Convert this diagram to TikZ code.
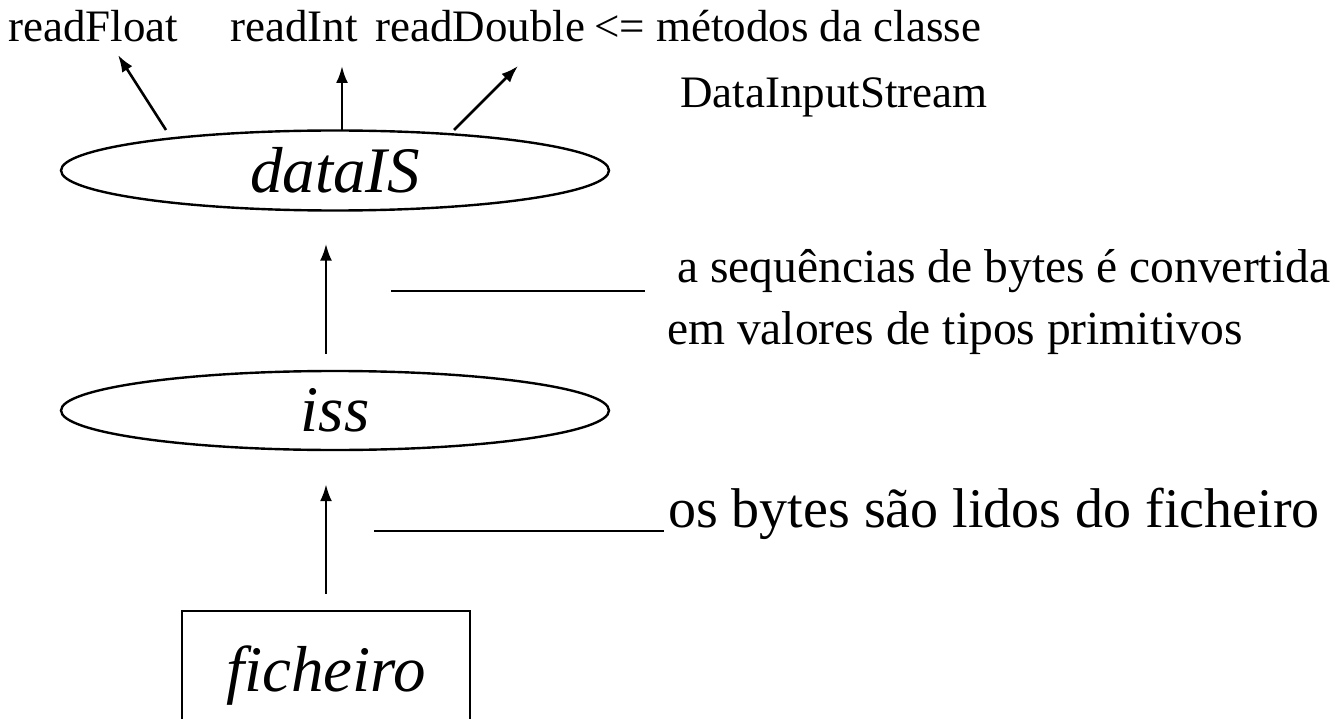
\documentclass[tikz,border=0pt]{standalone}
\usepackage{fontspec}
\setmainfont{Liberation Serif}
\usetikzlibrary{shapes.geometric,arrows.meta}
\begin{document}
\begin{tikzpicture}[x=1pt,y=-1pt,
  arr/.style={line width=2.6pt,-{Latex[length=17pt,width=12pt]}},
  ln/.style={line width=2.6pt},
  ital/.style={font=\fontsize{65}{72}\selectfont\itshape},
  ell/.style={ellipse,draw,line width=2.4pt,minimum width=548pt,minimum height=80pt,inner sep=0pt,ital},
  lbl/.style={anchor=base west,inner sep=0pt},
  small/.style={font=\fontsize{45}{50}\selectfont},
  ]
\useasboundingbox (0,0) rectangle (1340,719);
% top labels
\node[lbl,small] (rf) at (8,42) {readFloat};
\node[lbl,small] (ri) at (230,42) {readInt};
\node[lbl,small] (rd) at (375,42) {readDouble};
\node[lbl,small] (m1) at (594,42) {<= métodos da classe};
\node[lbl,small] (m2) at (680,108) {DataInputStream};
% nodes
\node[ell] (dataIS) at (335,170.5) {dataIS};
\node[ell,minimum height=79pt] (iss) at (335,410.5) {iss};
\node[draw,line width=2.4pt,minimum width=288pt,minimum height=130pt,inner sep=0pt,ital] (fich) at (326,676) {ficheiro};
% arrow coordinates
\coordinate (f0) at (166,130); \coordinate (f1) at (118,55);
\coordinate (i0) at (342,130); \coordinate (i1) at (342,66);
\coordinate (d0) at (454,130); \coordinate (d1) at (518,66);
\draw[arr] (f0) -- (f1);
\draw[arr] (i0) -- (i1);
\draw[arr] (d0) -- (d1);
\draw[arr] ([xshift=-9pt,yshift=16pt]iss.north) -- ([xshift=-9pt,yshift=-32pt]dataIS.south);
\draw[arr] ([yshift=16pt]fich.north) -- ([xshift=-9pt,yshift=-33pt]iss.south);
% side notes
\coordinate (l1a) at (391,291); \coordinate (l1b) at (645,291);
\coordinate (l2a) at (374,531); \coordinate (l2b) at (664,531);
\draw[ln] (l1a) -- (l1b);
\draw[ln] (l2a) -- (l2b);
\node[lbl,font=\fontsize{47.5}{54}\selectfont] (t1) at (677,282) {a sequências de bytes é convertida};
\node[lbl,font=\fontsize{47.5}{54}\selectfont] (t2) at (667,344) {em valores de tipos primitivos};
\node[lbl,font=\fontsize{56}{62}\selectfont] (t3) at (668,527) {os bytes são lidos do ficheiro};
\end{tikzpicture}
\end{document}
